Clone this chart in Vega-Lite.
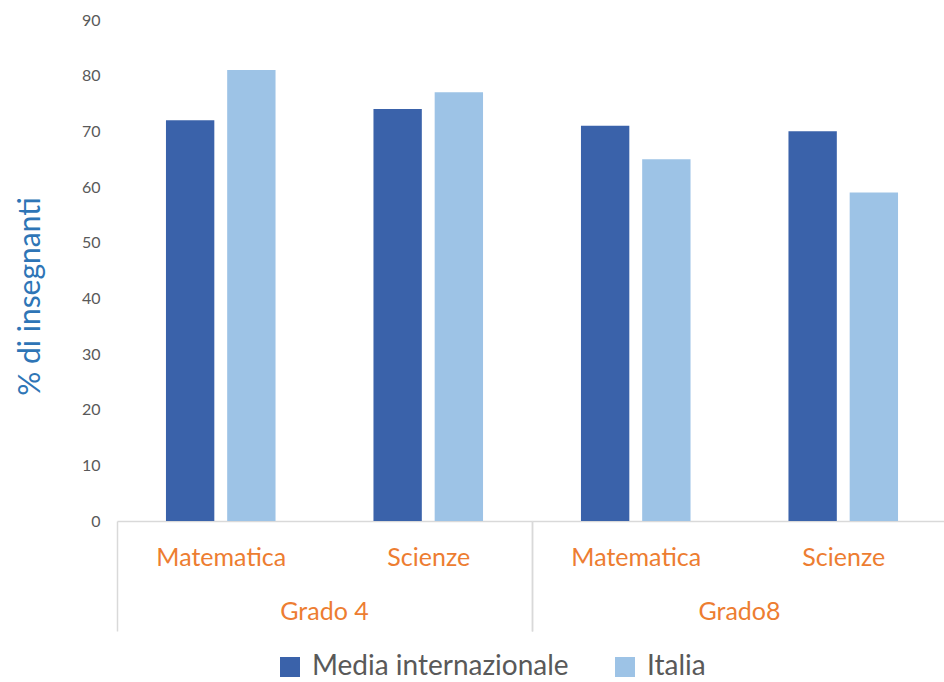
{
  "$schema": "https://vega.github.io/schema/vega-lite/v6.json",
  "background": "white",
  "padding": {"left": 15, "top": 12, "right": -4, "bottom": 4},
  "data": {"values": [
    {"grado": "Grado 4", "materia": "Matematica", "serie": "Media internazionale", "valore": 72},
    {"grado": "Grado 4", "materia": "Matematica", "serie": "Italia", "valore": 81},
    {"grado": "Grado 4", "materia": "Scienze", "serie": "Media internazionale", "valore": 74},
    {"grado": "Grado 4", "materia": "Scienze", "serie": "Italia", "valore": 77},
    {"grado": "Grado8", "materia": "Matematica", "serie": "Media internazionale", "valore": 71},
    {"grado": "Grado8", "materia": "Matematica", "serie": "Italia", "valore": 65},
    {"grado": "Grado8", "materia": "Scienze", "serie": "Media internazionale", "valore": 70},
    {"grado": "Grado8", "materia": "Scienze", "serie": "Italia", "valore": 59}
  ]},
  "facet": {
    "column": {
      "field": "grado", "type": "nominal", "sort": ["Grado 4", "Grado8"],
      "header": {"title": null, "labelOrient": "bottom", "labelColor": "#ED7D31", "labelFontSize": 25, "labelFont": "Lato", "labelPadding": -32}
    }
  },
  "spacing": 0,
  "spec": {
    "width": 415,
    "height": 501,
    "mark": {"type": "bar"},
    "encoding": {
      "x": {
        "field": "materia", "type": "nominal", "sort": ["Matematica", "Scienze"],
        "scale": {"paddingInner": 0, "paddingOuter": 0},
        "axis": {
          "title": null, "labelAngle": 0, "labelColor": "#ED7D31", "labelFontSize": 25, "labelFont": "Lato",
          "labelPadding": -86, "domainColor": "#D9D9D9", "domainWidth": 1.5,
          "tickBand": "extent", "tickSize": 110, "tickWidth": 1.5,
          "tickColor": {"condition": {"test": "datum.value !== 'Matematica'", "value": "#D9D9D9"}, "value": "transparent"}
        }
      },
      "xOffset": {
        "field": "serie", "type": "nominal", "sort": ["Media internazionale", "Italia"],
        "scale": {"paddingInner": 0.21, "paddingOuter": 0.8}
      },
      "y": {
        "field": "valore", "type": "quantitative",
        "scale": {"domain": [0, 90]},
        "axis": {
          "title": "% di insegnanti", "titleColor": "#2E75B6", "titleFontSize": 30, "titleFont": "Lato", "titleFontWeight": "normal",
          "titlePadding": 36, "titleY": 276, "values": [0, 10, 20, 30, 40, 50, 60, 70, 80, 90],
          "labelColor": "#595959", "labelFontSize": 16, "labelFont": "Lato", "labelPadding": 17,
          "domain": false, "ticks": false, "grid": false
        }
      },
      "color": {
        "field": "serie", "type": "nominal", "sort": ["Media internazionale", "Italia"],
        "scale": {"domain": ["Media internazionale", "Italia"], "range": ["#3A62AA", "#9DC3E6"]},
        "legend": {
          "title": null, "orient": "none", "direction": "horizontal", "legendX": 159, "legendY": 633,
          "labelFontSize": 28, "labelFont": "Lato", "labelColor": "#595959", "labelLimit": 0,
          "symbolType": "square", "symbolSize": 400, "symbolStrokeWidth": 0, "symbolOpacity": 1,
          "columnPadding": 42, "labelOffset": 8, "padding": 0
        }
      }
    }
  },
  "config": {"view": {"stroke": null}}
}
